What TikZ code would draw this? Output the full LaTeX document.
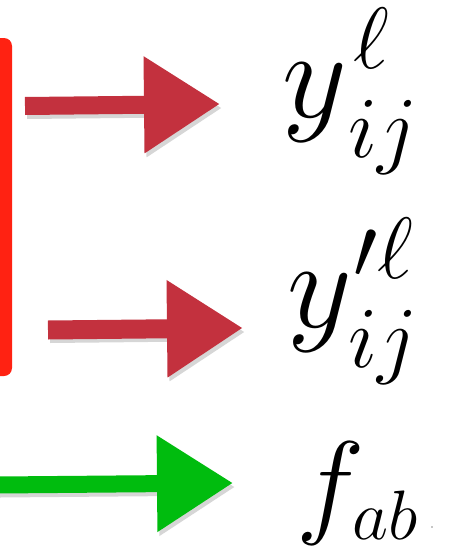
\RequirePackage{fix-cm}
\documentclass[tikz,border=0pt]{standalone}
\usetikzlibrary{arrows.meta}
\DeclareMathSizes{126}{126}{87}{63}
\DeclareMathSizes{116}{116}{70}{58}
\definecolor{boxred}{HTML}{FF2212}
\definecolor{arrred}{HTML}{C3313E}
\definecolor{arrgreen}{HTML}{00BC0E}
\newcommand{\supat}[2]{\rlap{\kern#1\raisebox{49pt}{$\scriptstyle#2$}}}
\newcommand{\subat}[2]{\kern#1\raisebox{-40pt}{$\scriptstyle#2$}}
\tikzset{
  lbl/.style={inner sep=0pt, anchor=base west, font=\fontsize{126}{150}\selectfont},
  lblf/.style={inner sep=0pt, anchor=base west, font=\fontsize{116}{140}\selectfont},
  headtip/.style={-{Triangle[length=76pt, width=92pt]}},
  shadowcopy/.style={draw=black, opacity=0.16},
}
\begin{document}
\begin{tikzpicture}[x=1pt,y=-1pt]
\useasboundingbox (0,0) rectangle (462,554);
\clip (0,0) rectangle (462,554);
\fill[white] (0,0) rectangle (462,554);
% red box edge
\fill[boxred, rounded corners=8pt] (-30,38) rectangle (12,376);
% labels
\node[lbl] (y1) at (282,117) {$y\supat{7pt}{\ell}\subat{1.5pt}{ij}$};
\node[lbl] (y2) at (287,327) {$y\supat{1.5pt}{\prime\ell}\subat{-3.5pt}{ij}$};
\node[lblf] (f)  at (296,522) {$f_{ab}$};
\fill[black!45] (432,527) circle (0.9);
% arrow end points
\coordinate (s1) at (25,106);  \coordinate (t1) at (220,104);
\coordinate (s2) at (48,330);  \coordinate (t2) at (243,328);
\coordinate (s3) at (-2,485);  \coordinate (t3) at (233,483);
% shadows
\draw[shadowcopy, line width=18pt, headtip] ([shift={(2,4)}]s1) -- ([shift={(2,4)}]t1);
\draw[shadowcopy, line width=18pt, headtip] ([shift={(2,4)}]s2) -- ([shift={(2,4)}]t2);
\draw[shadowcopy, line width=17pt, headtip] ([shift={(2,4)}]s3) -- ([shift={(2,4)}]t3);
% arrows
\draw[arrred, line width=18pt, headtip] (s1) -- (t1);
\draw[arrred, line width=19pt, headtip] (s2) -- (t2);
\draw[arrgreen, line width=17pt, headtip] (s3) -- (t3);
\end{tikzpicture}
\end{document}
